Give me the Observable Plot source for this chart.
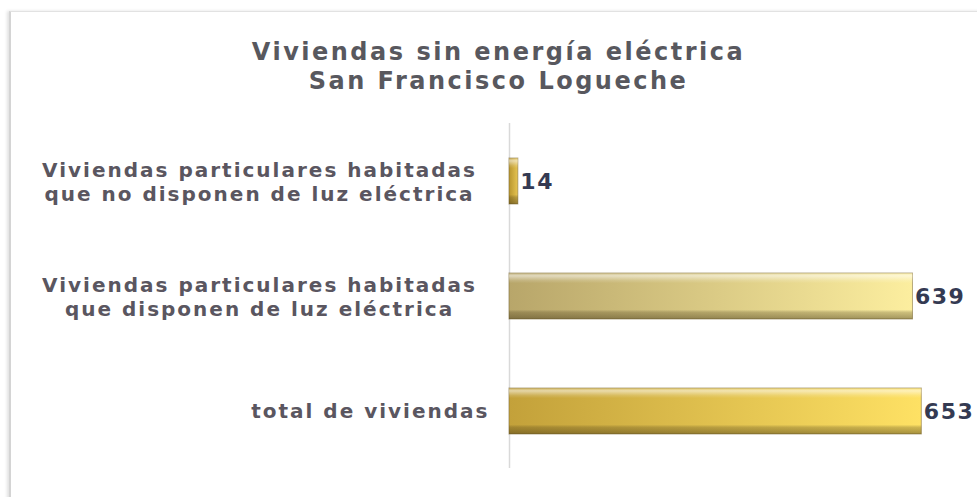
<!DOCTYPE html>
<html>
<head>
<meta charset="utf-8">
<script src="https://cdn.jsdelivr.net/npm/d3@7"></script>
<script src="https://cdn.jsdelivr.net/npm/@observablehq/plot@0.6"></script>
<style>
  html, body { margin: 0; padding: 0; background: #fff; }
  body { width: 977px; height: 497px; overflow: hidden; position: relative; font-family: "DejaVu Sans", sans-serif; }
  #frame { position: absolute; left: 9px; top: 11px; width: 1000px; height: 600px;
           border-left: 2px solid #d4d4d4; border-top: 1px solid #e2e2e2;
           box-shadow: -2px 0 3px rgba(0,0,0,0.12); }
  #wrap { position: absolute; left: 0; top: 0; width: 977px; }
  #title { height: 118px; box-sizing: border-box; padding-top: 38px; padding-left: 20px; text-align: center;
           font-family: "DejaVu Sans", sans-serif; font-weight: bold; font-size: 24px; line-height: 29px;
           letter-spacing: 2.5px; color: #58585e; }
  svg { display: block; }
</style>
</head>
<body>
<div id="frame"></div>
<div id="wrap">
  <div id="title">Viviendas sin energía eléctrica<br>San Francisco Logueche</div>
  <div id="chart"></div>
</div>
<script>
const categorias = [
  "Viviendas particulares habitadas\nque no disponen de luz eléctrica",
  "Viviendas particulares habitadas\nque disponen de luz eléctrica",
  "total de viviendas"
];
const valores = [14, 639, 653];
const colorIzq = ["#b8952e", "#b8a66a", "#c3a13a"];
const colorDer = ["#e6c452", "#fcee9f", "#fee164"];

const datos = categorias.map((c, i) => ({categoria: c, valor: valores[i], idx: i}));

const plot = Plot.plot({
  width: 977,
  height: 379,
  marginLeft: 509,
  marginRight: 26,
  marginTop: 5,
  marginBottom: 29,
  x: {domain: [0, 700], axis: null},
  y: {domain: categorias, axis: null, paddingInner: 0.6, paddingOuter: 0.3},
  color: {type: "identity"},
  marks: [
    Plot.ruleX([0], {stroke: "#d9d9d9", strokeWidth: 1.5}),
    Plot.barX(datos, {x: "valor", y: "categoria", fill: d => `url(#grad${d.idx})`,
                      stroke: "#7d6a35", strokeOpacity: 0.55, strokeWidth: 1}),
    Plot.barX(datos, {x: "valor", y: "categoria", fill: "url(#bevel)"}),
    Plot.text(datos.filter(d => d.categoria.includes("\n")), {
      x: 0, y: "categoria", text: "categoria", textAnchor: "middle", dx: -250,
      lineHeight: 1.2, fontSize: 20, fontWeight: "bold", fill: "#5a5660",
      fontFamily: "DejaVu Sans", ariaDescription: "etiquetas"
    }),
    Plot.text(datos.filter(d => !d.categoria.includes("\n")), {
      x: 0, y: "categoria", text: "categoria", textAnchor: "end", dx: -20,
      fontSize: 20, fontWeight: "bold", fill: "#5a5660",
      fontFamily: "DejaVu Sans", ariaDescription: "etiquetas"
    }),
    Plot.text(datos, {
      x: "valor", y: "categoria", text: d => String(d.valor), textAnchor: "start", dx: 2,
      fontSize: 22, fontWeight: "bold", fill: "#343a52", fontFamily: "DejaVu Sans",
      ariaDescription: "valores"
    })
  ]
});

const svg = d3.select(plot);
const defs = svg.insert("defs", ":first-child");
categorias.forEach((c, i) => {
  const g = defs.append("linearGradient").attr("id", `grad${i}`)
    .attr("x1", 0).attr("x2", 1).attr("y1", 0).attr("y2", 0);
  g.append("stop").attr("offset", "0%").attr("stop-color", colorIzq[i]);
  g.append("stop").attr("offset", "100%").attr("stop-color", colorDer[i]);
});
const bv = defs.append("linearGradient").attr("id", "bevel")
  .attr("x1", 0).attr("x2", 0).attr("y1", 0).attr("y2", 1);
[["0%", "#ffffff", 0.15], ["6%", "#ffffff", 0.55], ["16%", "#ffffff", 0.15], ["22%", "#ffffff", 0],
 ["80%", "#000000", 0], ["86%", "#3a2e10", 0.25], ["100%", "#3a2e10", 0.45]].forEach(([o, c, a]) => {
  bv.append("stop").attr("offset", o).attr("stop-color", c).attr("stop-opacity", a);
});
svg.selectAll('g[aria-description="etiquetas"] text').style("letter-spacing", "2px");
svg.selectAll('g[aria-description="valores"] text').style("letter-spacing", "1.5px");

document.getElementById("chart").appendChild(plot);
</script>
</body>
</html>
